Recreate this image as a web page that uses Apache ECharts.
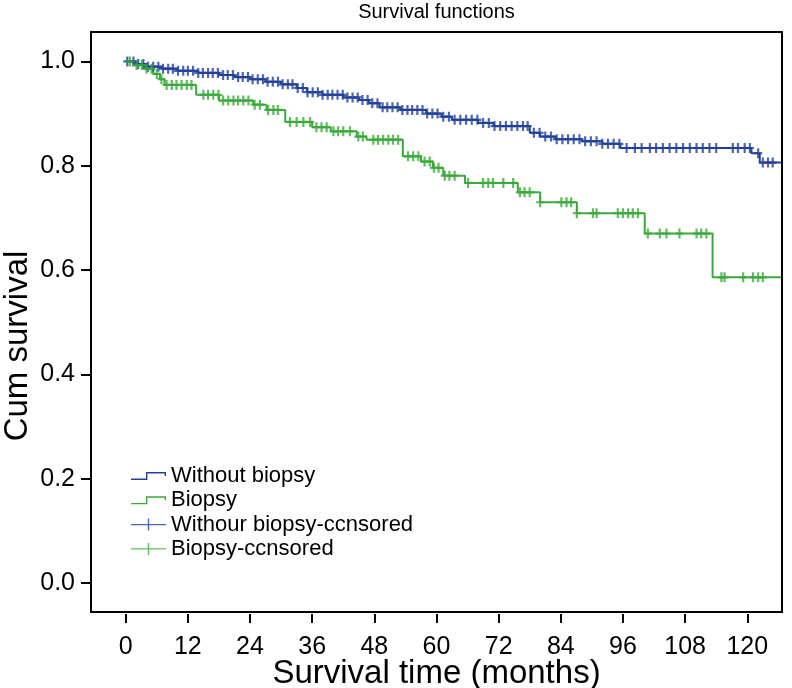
<!DOCTYPE html>
<html>
<head>
<meta charset="utf-8">
<script src="https://cdn.jsdelivr.net/npm/echarts@6/dist/echarts.min.js"></script>
<style>html,body{margin:0;padding:0;background:#fff}#c{width:792px;height:688px}</style>
</head>
<body>
<div id="c"></div>
<script>
// ---- data ----
const chartTitle = 'Survival functions';
const xTitle = 'Survival time (months)';
const yTitle = 'Cum survival';
const seriesNames = ['Without biopsy', 'Biopsy', 'Withour biopsy-ccnsored', 'Biopsy-ccnsored'];
const xTicks = [0, 12, 24, 36, 48, 60, 72, 84, 96, 108, 120];
const yTicks = [0.0, 0.2, 0.4, 0.6, 0.8, 1.0];
const followUpEnd = 126.5;

// Kaplan-Meier steps: [event time (months), survival after event]
const blueSteps = [
  [0, 1.0], [2, 0.995], [4, 0.990], [7, 0.986], [10, 0.982], [14, 0.978], [18, 0.974],
  [21, 0.970], [24, 0.966], [27, 0.961], [30, 0.956], [33, 0.949], [35, 0.941], [38, 0.936],
  [42, 0.931], [45, 0.926], [47, 0.920], [49, 0.912], [53, 0.907], [58, 0.900], [61, 0.894],
  [63, 0.888], [68, 0.882], [71, 0.876], [78, 0.863], [80, 0.856], [83, 0.851], [88, 0.847],
  [92, 0.842], [95.5, 0.834], [120.8, 0.824], [122.4, 0.806]
];
const greenSteps = [
  [0, 1.0], [1.5, 0.993], [3.5, 0.986], [5.3, 0.976], [6.6, 0.966], [7.5, 0.955], [13.6, 0.936],
  [18, 0.925], [24.6, 0.917], [27.2, 0.907], [30.8, 0.884], [36, 0.874], [39.6, 0.866],
  [44.6, 0.856], [46.5, 0.850], [53.5, 0.818], [57, 0.808], [59.3, 0.796], [61.3, 0.781],
  [65.5, 0.767], [75.7, 0.749], [80, 0.730], [87.1, 0.709], [100.2, 0.670], [113.3, 0.586]
];
// censoring times (months)
const blueCensorTimes = [
  0.3, 1.5, 2.4, 3.4, 4.3, 5.3, 6.3, 7.2, 8.2, 9.1, 10.1, 11.1, 12.0, 13.0, 14.0, 14.9, 15.9,
  16.8, 17.8, 18.8, 19.7, 20.7, 21.7, 22.6, 23.6, 24.5, 25.5, 26.5, 27.4, 28.4, 29.4, 30.3,
  31.3, 32.2, 33.2, 34.2, 35.1, 36.1, 37.1, 38.0, 39.0, 39.9, 40.9, 41.9, 42.8, 43.8, 44.8,
  45.7, 46.7, 47.6, 48.6, 49.6, 50.5, 51.5, 52.5, 53.4, 54.4, 55.3, 56.3, 57.3, 58.2, 59.2,
  60.2, 61.3, 62.4, 63.5, 64.6, 65.7, 66.8, 67.9, 69.0, 70.1, 71.2, 72.3, 73.4, 74.5, 75.6,
  76.7, 77.6, 78.8, 79.9, 81.0, 82.1, 83.2, 84.3, 85.4, 86.5, 87.6, 88.7, 89.8, 90.9, 92.0,
  93.1, 94.2, 95.3, 96.7, 98.3, 99.6, 101.2, 102.4, 103.7, 105.0, 106.3, 107.6, 108.9, 110.2,
  111.4, 112.7, 114.0, 117.2, 118.2, 119.5, 120.5, 122.1, 123.0, 124.0, 124.9
];
const greenCensorTimes = [
  0.8, 2.1, 3.1, 4.0, 5.0, 6.0, 6.9, 7.9, 8.9, 9.8, 10.8, 11.8, 12.7, 15.0, 15.9, 16.9, 17.9,
  18.8, 19.8, 20.8, 21.7, 22.7, 23.7, 24.9, 25.9, 27.5, 28.5, 29.4, 31.7, 33.0, 34.3, 35.6,
  36.8, 37.8, 38.8, 40.1, 41.0, 42.0, 43.3, 44.9, 45.8, 47.8, 48.7, 49.7, 50.7, 51.6, 52.6,
  54.5, 55.5, 56.5, 57.7, 58.7, 59.5, 60.4, 61.6, 62.5, 63.5, 66.1, 69.0, 70.0, 70.9, 72.9,
  74.8, 76.1, 77.0, 78.0, 80.0, 84.1, 85.1, 86.0, 87.1, 90.2, 90.9, 95.0, 96.0, 97.0, 97.9,
  98.9, 100.8, 103.1, 104.4, 106.9, 110.2, 111.1, 112.1, 115.0, 115.6, 119.2, 121.1, 122.1, 123.0
];

// ---- build ----
const BLUE = '#22409b';
const GREEN = '#3aaa3a';
const FONT = '"Liberation Sans", Arial, Helvetica, sans-serif';

function curveLevel(steps, t) {
  let s = steps[0][1];
  for (const [st, sv] of steps) { if (st <= t) s = sv; }
  return s;
}
function curveData(steps) {
  return steps.concat([[followUpEnd, steps[steps.length - 1][1]]]);
}
function censorData(steps, times) {
  return times.map(t => [t, curveLevel(steps, t)]);
}

const plusSymbol = 'path://M2.9,0 L5.1,0 L5.1,3.9 L8,3.9 L8,6.1 L5.1,6.1 L5.1,10 L2.9,10 L2.9,6.1 L0,6.1 L0,3.9 L2.9,3.9 Z';
const boxPts = 'M0,0 L0.01,0 L0,0.01 Z M35,12 L34.99,12 L35,11.99 Z ';
const stepIcon = 'path://' + boxPts + 'M0,8.6 L15,8.6 L15,2 L35,2 L35,6 L33.6,6 L33.6,3.4 L16.4,3.4 L16.4,10 L0,10 Z';
const plusIcon = 'path://' + boxPts + 'M0,5.3 L16.8,5.3 L16.8,0 L18.2,0 L18.2,5.3 L35,5.3 L35,6.7 L18.2,6.7 L18.2,12 L16.8,12 L16.8,6.7 L0,6.7 Z';

const chart = echarts.init(document.getElementById('c'), null, { renderer: 'canvas' });
chart.setOption({
  animation: false,
  backgroundColor: '#fff',
  textStyle: { fontFamily: FONT },
  title: {
    text: chartTitle, left: 436.5, top: 2, textAlign: 'center', padding: 0,
    textStyle: { fontFamily: FONT, fontSize: 20, fontWeight: 'normal', color: '#000' }
  },
  legend: {
    orient: 'vertical', left: 131, top: 465, padding: 0, itemGap: 2.3,
    itemWidth: 35, itemHeight: 12, selectedMode: false,
    itemStyle: { borderWidth: 0 },
    textStyle: { fontFamily: FONT, fontSize: 22, color: '#000', lineHeight: 22 },
    data: [
      { name: seriesNames[0], icon: stepIcon },
      { name: seriesNames[1], icon: stepIcon },
      { name: seriesNames[2], icon: plusIcon },
      { name: seriesNames[3], icon: plusIcon }
    ]
  },
  grid: { left: 91, right: 10, top: 32, bottom: 76, show: true, borderColor: '#000', borderWidth: 2,
    containLabel: false, outerBoundsMode: 'none' },
  xAxis: {
    type: 'value', min: -6.7, max: 126.7, offset: 2, position: 'bottom',
    name: xTitle, nameLocation: 'middle', nameGap: 43, nameMoveOverlap: false,
    nameTextStyle: { fontFamily: FONT, fontSize: 33, color: '#000' },
    axisLine: { show: false, onZero: false },
    axisTick: { show: true, length: 9, customValues: xTicks, lineStyle: { color: '#000', width: 2 } },
    axisLabel: { customValues: xTicks, margin: 21, fontFamily: FONT, fontSize: 25, color: '#000' },
    splitLine: { show: false }
  },
  yAxis: {
    type: 'value', min: -0.0556, max: 1.0564, position: 'left',
    name: yTitle, nameLocation: 'middle', nameGap: 57, nameMoveOverlap: false,
    nameTextStyle: { fontFamily: FONT, fontSize: 33, color: '#000', padding: [0, 48, 0, 0] },
    axisLine: { show: false, onZero: false },
    axisTick: { show: true, length: 10, customValues: yTicks, lineStyle: { color: '#000', width: 2 } },
    axisLabel: { customValues: yTicks, margin: 16, fontFamily: FONT, fontSize: 25, color: '#000',
      formatter: v => v.toFixed(1) },
    splitLine: { show: false }
  },
  series: [
    { name: seriesNames[0], type: 'line', step: 'end', data: curveData(blueSteps), showSymbol: false,
      color: BLUE, itemStyle: { color: BLUE }, lineStyle: { color: BLUE, width: 2 }, z: 2 },
    { name: seriesNames[1], type: 'line', step: 'end', data: curveData(greenSteps), showSymbol: false,
      color: GREEN, itemStyle: { color: GREEN }, lineStyle: { color: GREEN, width: 2 }, z: 2 },
    { name: seriesNames[2], type: 'scatter', data: censorData(blueSteps, blueCensorTimes),
      symbol: plusSymbol, symbolSize: [8, 10], color: BLUE, itemStyle: { color: BLUE }, z: 3 },
    { name: seriesNames[3], type: 'scatter', data: censorData(greenSteps, greenCensorTimes),
      symbol: plusSymbol, symbolSize: [8, 10], color: GREEN, itemStyle: { color: GREEN }, z: 3 }
  ]
});
</script>
</body>
</html>
